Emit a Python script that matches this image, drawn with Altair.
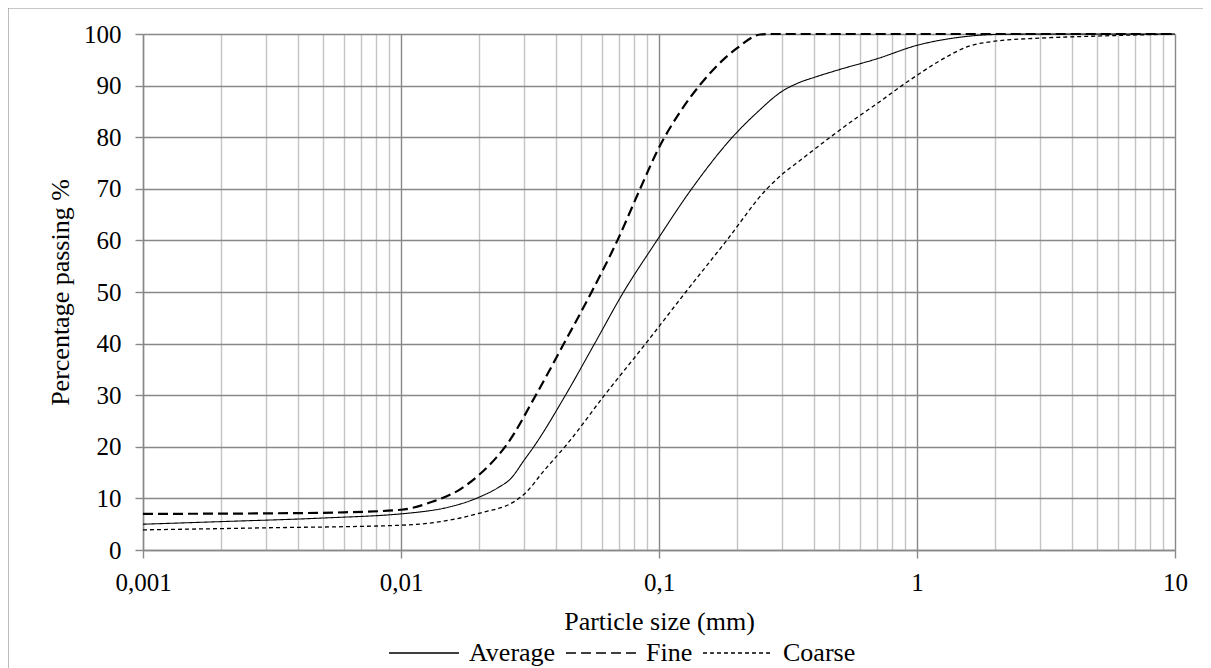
import altair as alt
import pandas as pd

series_names = ["Average", "Fine", "Coarse"]

avg_x = [0.001, 0.002, 0.005, 0.01, 0.0115, 0.015, 0.02, 0.024, 0.0266, 0.03, 0.0327, 0.0434, 0.0563,
         0.0729, 0.0982, 0.133, 0.195, 0.24, 0.3, 0.35, 0.4, 0.5, 0.7, 1, 1.48, 2, 3, 10]
avg_y = [5.0, 5.5, 6.2, 7.0, 7.3, 8.2, 10.2, 12.2, 13.8, 17.4, 20.0, 30.0, 40.0,
         50.0, 60.0, 69.8, 80.3, 84.8, 88.9, 90.6, 91.6, 93.1, 95.2, 97.8, 99.4, 99.9, 100, 100]

fine_x = [0.001, 0.003, 0.006, 0.01, 0.0133, 0.017, 0.02, 0.0235, 0.0256, 0.0333, 0.0428, 0.0548,
          0.069, 0.0845, 0.1, 0.12, 0.1445, 0.2, 0.247, 0.27, 10]
fine_y = [7.0, 7.1, 7.3, 7.8, 9.4, 11.8, 14.5, 18.0, 20.3, 30.0, 40.0, 50.0,
          60.0, 70.0, 78.0, 84.7, 90.2, 97.2, 99.9, 100, 100]

coarse_x = [0.001, 0.003, 0.01, 0.02, 0.0281, 0.03, 0.036, 0.044, 0.0615, 0.0888, 0.127, 0.183,
            0.262, 0.3, 0.35, 0.461, 0.6, 0.7, 0.874, 1, 1.35, 1.56, 2, 3, 5, 10]
coarse_y = [3.9, 4.3, 4.8, 7.1, 9.7, 10.8, 15.5, 20.5, 30.0, 40.0, 50.0, 60.0,
            70.0, 72.8, 75.4, 80.0, 84.2, 86.5, 90.0, 92.0, 96.0, 97.5, 98.6, 99.2, 99.6, 100]

x_tick_values = [round(m * 10.0 ** e, 6) for e in range(-3, 1) for m in range(1, 10)] + [10]
y_tick_values = list(range(0, 101, 10))

rows = []
for name, xs, ys in zip(series_names, [avg_x, fine_x, coarse_x], [avg_y, fine_y, coarse_y]):
    for xv, yv in zip(xs, ys):
        rows.append({"Series": name, "size": xv, "pct": yv})
df = pd.DataFrame(rows)

FONT = "Liberation Serif"
MAJOR = "abs(log(datum.value)/LN10 - round(log(datum.value)/LN10)) < 0.001"
DARK = "#888888"
LIGHT = "#c4c4c4"

legend = alt.Legend(
    title=None, orient="none", legendX=245, legendY=583, direction="horizontal",
    symbolType="stroke", symbolSize=4900, symbolStrokeColor="black", symbolStrokeWidth=1.5,
    labelFont=FONT, labelFontSize=26, labelColor="black", labelOffset=9,
    columnPadding=7, padding=0,
)

lines = alt.Chart(df).mark_line(interpolate="monotone", color="black").encode(
    x=alt.X("size:Q",
            scale=alt.Scale(type="log", domain=[0.001, 10], nice=False),
            axis=alt.Axis(
                title="Particle size (mm)", values=x_tick_values, format="~g",
                labelExpr=f"{MAJOR} ? replace(datum.label, '.', ',') : ''",
                labelOverlap=False, labelFlush=False, labelPadding=12,
                grid=True,
                gridColor={"condition": {"test": MAJOR, "value": DARK}, "value": LIGHT},
                gridWidth=1.4,
                tickColor={"condition": {"test": MAJOR, "value": DARK}, "value": "transparent"},
                tickSize=8, tickWidth=1.4,
                domainColor=DARK, domainWidth=1.4,
                titlePadding=13, titleFontSize=26,
            )),
    y=alt.Y("pct:Q",
            scale=alt.Scale(domain=[0, 100], nice=False),
            axis=alt.Axis(
                title="Percentage passing %", values=y_tick_values,
                grid=True, gridColor=DARK, gridWidth=1.4,
                tickColor=DARK, tickSize=8, tickWidth=1.4,
                domainColor=DARK, domainWidth=1.4,
                labelPadding=14, titlePadding=10, titleFontSize=26,
            )),
    strokeDash=alt.StrokeDash("Series:N",
                              scale=alt.Scale(domain=series_names, range=[[1, 0], [10, 5], [4, 3]]),
                              legend=legend),
    strokeWidth={"condition": [
        {"test": "datum.Series === 'Fine'", "value": 2.2},
        {"test": "datum.Series === 'Coarse'", "value": 1.3},
    ], "value": 1.1},
)

frame_df = pd.DataFrame({"k": [0]})
top_border = alt.Chart(frame_df).mark_rule(color="#8f8f8f", strokeWidth=1.2).encode(
    x=alt.value(-135), x2=alt.value(1060), y=alt.value(-26))
left_border = alt.Chart(frame_df).mark_rule(color="#8f8f8f", strokeWidth=1.2).encode(
    x=alt.value(-135), y=alt.value(-26), y2=alt.value(700))

chart = alt.layer(top_border, left_border, lines).properties(
    width=1032, height=516,
    padding={"left": 135, "top": 26, "right": 28, "bottom": 118},
    autosize=alt.AutoSizeParams(type="none"),
    background="white",
).configure_view(stroke=None).configure_axis(
    labelFont=FONT, labelFontSize=25, labelColor="black",
    titleFont=FONT, titleFontWeight="normal", titleColor="black",
)

chart.save("out.html", embed_options={"renderer": "svg", "actions": False})
